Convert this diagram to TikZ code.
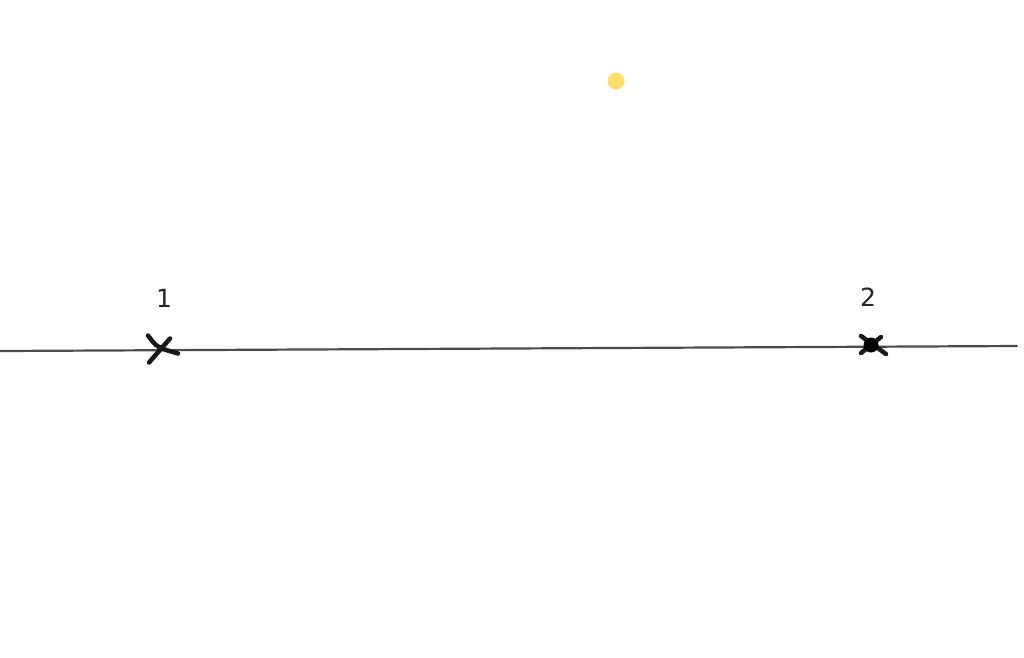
\documentclass[tikz,border=0pt]{standalone}
\usepackage{fontspec}
\setmainfont{DejaVu Sans}
\usetikzlibrary{calc}
\begin{document}
\begin{tikzpicture}[x=1pt,y=-1pt,
  baseline/.style={draw=black!70,line width=2.2pt,line cap=round},
  crossmark/.style={draw=black!90,line width=4.5pt,line cap=round},
  lbl/.style={font=\fontsize{25}{27}\selectfont,text=black!85,inner sep=0pt}]
\useasboundingbox[fill=white] (0,0) rectangle (1024,657);
\coordinate (L) at (0,351);
\coordinate (R) at (1017,346);
\draw[baseline] (L) -- (R);
\coordinate (p1) at (161,347.5);
\coordinate (p2) at (871,345);
\draw[crossmark] ($(p1)+(-13,-12)$) .. controls ($(p1)+(-4,0)$) .. ($(p1)+(17,6)$);
\draw[crossmark] ($(p1)+(-12,15)$) -- ($(p1)+(9,-9)$);
\draw[crossmark] ($(p2)+(-10,-9)$) -- ($(p2)+(15,9)$);
\draw[crossmark] ($(p2)+(-10,8)$) -- ($(p2)+(10,-8)$);
\fill[black] (p2) circle (7.5);
\node[lbl] (n1) at (164,298) {1};
\node[lbl] (n2) at (868,297) {2};
\node[circle,fill=yellow!60!orange!55,minimum size=17pt,inner sep=0pt] (dot) at (616,81) {};
\end{tikzpicture}
\end{document}
